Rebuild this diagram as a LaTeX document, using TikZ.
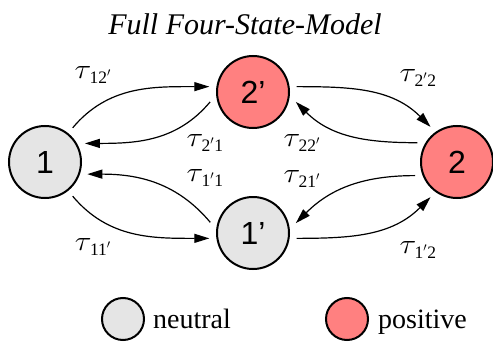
\documentclass[tikz,border=0pt]{standalone}
\usepackage{fontspec}
\setmainfont{Liberation Serif}
\newfontfamily\helv{Liberation Sans}
\usetikzlibrary{arrows.meta}

\definecolor{neutralgray}{RGB}{229,229,229}
\definecolor{positivered}{RGB}{255,128,128}
\newcommand{\rate}[1]{\scalebox{1.25}[1.12]{$\tau$}\kern-1.5pt\textsubscript{#1}}

\begin{document}
\begin{tikzpicture}[x=1pt,y=1pt,
  statenode/.style={circle,draw,line width=2pt,minimum size=72pt,
    inner sep=0pt,outer sep=8pt,font=\helv\fontsize{32}{32}\selectfont},
  neutral/.style={fill=neutralgray},
  positive/.style={fill=positivered},
  ratelabel/.style={font=\fontsize{25}{25}\selectfont,inner sep=0pt},
  transition/.style={-{Triangle[length=15pt,width=9pt]},line width=1.2pt}]
  \useasboundingbox (0,0) rectangle (493,341);

  \node[font=\itshape\fontsize{30}{30}\selectfont] (title) at (245,317)
    {Full Four-State-Model};

  % states
  \node[statenode,neutral]  (n1)  at (45,179)  {1};
  \node[statenode,positive] (n2p) at (253,249) {2’};
  \node[statenode,positive] (n2)  at (457,179) {2};
  \node[statenode,neutral]  (n1p) at (253,108) {1’};

  % transitions
  \draw[transition] (n1.51)   to[out=50,in=180]  (n2p.173);
  \draw[transition] (n2p.193) to[out=230,in=0]   (n1.25);
  \draw[transition] (n2p.7)   to[out=0,in=135]   (n2.127);
  \draw[transition] (n2.154)  to[out=180,in=-45] (n2p.-13);
  \draw[transition] (n1p.166) to[out=130,in=0]   (n1.-16);
  \draw[transition] (n1.-51)  to[out=-50,in=180] (n1p.187);
  \draw[transition] (n2.198)  to[out=180,in=45]  (n1p.13);
  \draw[transition] (n1p.-7)  to[out=0,in=225]   (n2.233);

  % rates
  \node[ratelabel] (r12p) at (93,266)  {\rate{12$'$}};
  \node[ratelabel] (r2p2) at (418,263) {\rate{2$'$2}};
  \node[ratelabel] (r2p1) at (205,198) {\rate{2$'$1}};
  \node[ratelabel] (r22p) at (302,198) {\rate{22$'$}};
  \node[ratelabel] (r1p1) at (205,163) {\rate{1$'$1}};
  \node[ratelabel] (r21p) at (302,162) {\rate{21$'$}};
  \node[ratelabel] (r11p) at (93,94)   {\rate{11$'$}};
  \node[ratelabel] (r1p2) at (418,91)  {\rate{1$'$2}};

  % legend
  \node[statenode,neutral,minimum size=42pt]  (legneutral)  at (123,22) {};
  \node[statenode,positive,minimum size=42pt] (legpositive) at (347,22) {};
  \node[anchor=base west,inner sep=0pt,font=\fontsize{28}{28}\selectfont]
    (neutraltext) at (153,13) {neutral};
  \node[anchor=base west,inner sep=0pt,font=\fontsize{28}{28}\selectfont]
    (positivetext) at (378,13) {positive};
\end{tikzpicture}
\end{document}
